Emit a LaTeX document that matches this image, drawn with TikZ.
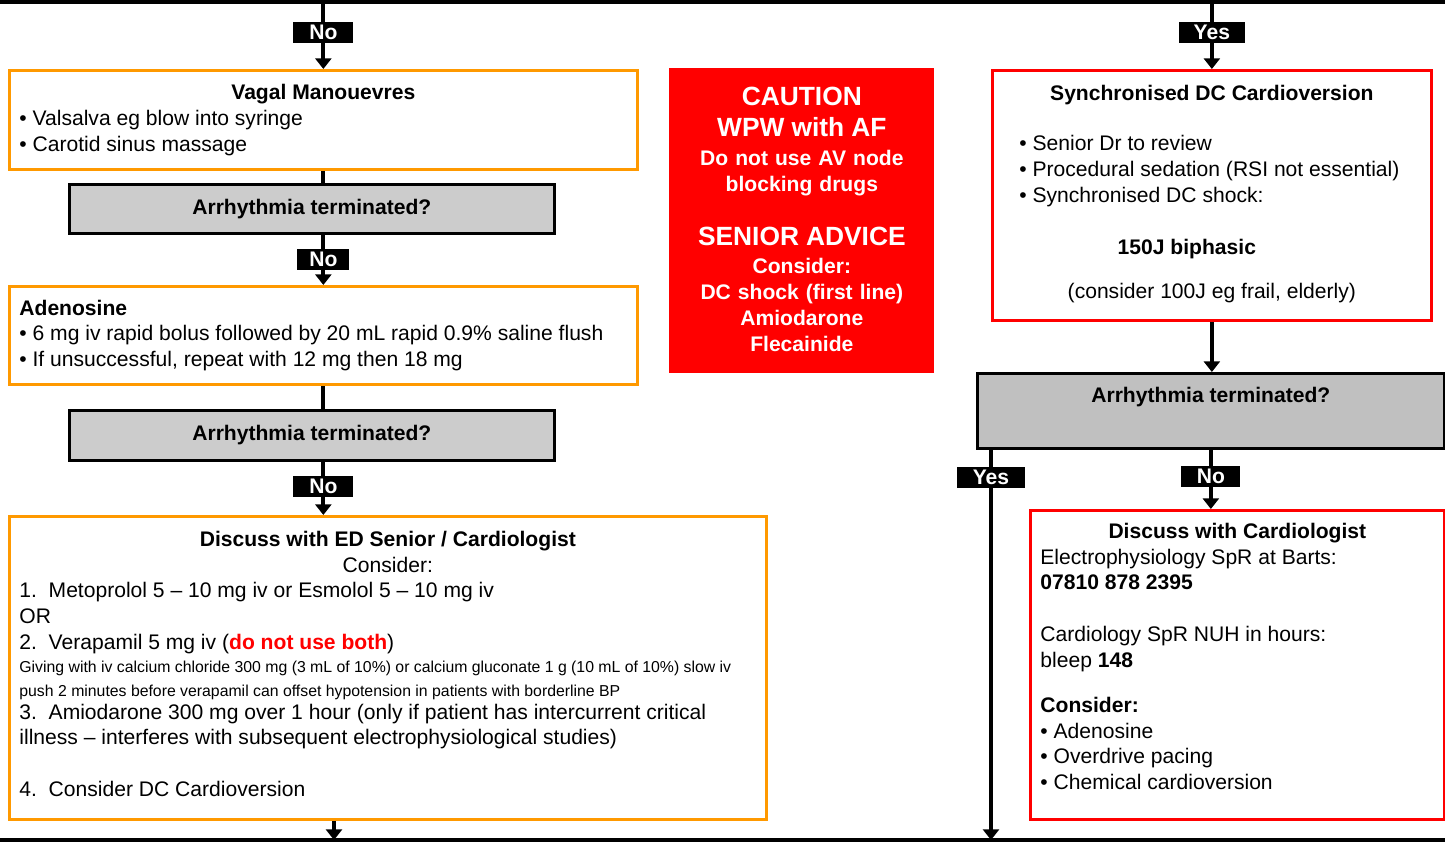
\documentclass[tikz,border=0pt]{standalone}
\usepackage{fontspec}
\setmainfont{Liberation Sans}
\usetikzlibrary{positioning}
\usetikzlibrary{calc}
\usetikzlibrary{arrows.meta}
\definecolor{boxorange}{HTML}{FF9900}
\definecolor{boxgrey}{HTML}{CCCCCC}
\definecolor{boxgreydark}{HTML}{C0C0C0}
\newcommand{\padbottom}[1]{\par\nointerlineskip\vspace{#1}\hbox{}}

\begin{document}
\begin{tikzpicture}[x=0.02cm, y=-0.02cm, font=\fontsize{12}{14.7}\selectfont,
	>={Triangle[width=9pt,length=6pt]},
	flow/.style={line width=2.2pt},
	plainspace/.style={execute at begin node={\spaceskip=0pt\xspaceskip=0pt}},
	obox/.style={rectangle,draw=boxorange,line width=1.6pt,anchor=north west,inner xsep=0.2cm,inner ysep=0.1cm,align=left,plainspace},
	rbox/.style={obox,draw=red},
	qbox/.style={rectangle,draw=black,fill=boxgrey,line width=1.6pt,anchor=north west,font=\fontsize{12}{14.7}\selectfont\bfseries},
	answer/.style={fill=black,text=white,inner sep=0pt,minimum width=1.2cm,minimum height=0.42cm,font=\fontsize{12}{14.7}\selectfont\bfseries}]
		\useasboundingbox (0,0) rectangle (1445,842);
		% left column
		\node[obox, text width=12.16cm, minimum height=1.98cm] (vagal) at (8,69){%
			{\centering\textbf{Vagal Manouevres}\par}
			\textbullet\ Valsalva eg blow into syringe\\
			\textbullet\ Carotid sinus massage};
		\node[qbox, minimum width=9.7cm, minimum height=0.98cm] (term1) at (68,183){Arrhythmia terminated?};
		\node[obox, text width=12.16cm, minimum height=1.96cm] (aden) at (8,285){%
			\textbf{Adenosine}\\
			\textbullet\ 6 mg iv rapid bolus followed by 20 mL rapid 0.9\% saline flush\\
			\textbullet\ If unsuccessful, repeat with 12 mg then 18 mg};
		\node[qbox, minimum width=9.7cm, minimum height=1cm] (term2) at (68,409){Arrhythmia terminated?};
		\node[obox, text width=14.74cm, minimum height=6.06cm] (discuss) at (8,515){%
			{\centering\textbf{Discuss with ED Senior / Cardiologist}\\Consider:\par}
			1.\ \ Metoprolol 5 – 10 mg iv or Esmolol 5 – 10 mg iv\\
			OR\\
			2.\ \ Verapamil 5 mg iv ({\color{red}\textbf{do not use both}})\par
			{\fontsize{9}{13.3}\selectfont Giving with iv calcium chloride 300 mg (3 mL of 10\%) or calcium gluconate 1 g (10 mL of 10\%) slow iv\\
			push 2 minutes before verapamil can offset hypotension in patients with borderline BP\par}\vspace{-1.7pt}
			3.\ \ Amiodarone 300 mg over 1 hour (only if patient has intercurrent critical\\
			illness – interferes with subsequent electrophysiological studies)\\[14.7pt]
			4.\ \ Consider DC Cardioversion\padbottom{4.5pt}};
		% warning panel
		\node[rectangle, fill=red, text=white, anchor=north west, inner xsep=0.1cm, text width=5.1cm, minimum height=6.1cm, align=center, font=\fontsize{12}{14.7}\selectfont\bfseries] (caution) at (669,68){%
			{\fontsize{15}{18}\selectfont CAUTION\\WPW with AF\par}\vspace{1.7pt}
			Do not use AV node\\blocking drugs\par\vspace{12.6pt}
			{\fontsize{15}{18}\selectfont SENIOR ADVICE\par}\vspace{1.7pt}
			Consider:\\DC shock (first line)\\Amiodarone\\Flecainide\padbottom{2pt}};
		% right column
		\node[rbox, text width=8.38cm, minimum height=5cm] (sync) at (991,69){%
			{\centering\textbf{Synchronised DC Cardioversion}\par}\vspace{14.2pt}
			\hspace*{0.34cm}\textbullet\ Senior Dr to review\\
			\hspace*{0.34cm}\textbullet\ Procedural sedation (RSI not essential)\\
			\hspace*{0.34cm}\textbullet\ Synchronised DC shock:\par\vspace{14.7pt}
			{\centering\hspace*{-1cm}\textbf{150J biphasic}\par}\vspace{10.8pt}
			{\centering (consider 100J eg frail, elderly)\par}\padbottom{1.5pt}};
		\node[qbox, fill=boxgreydark, minimum width=9.34cm, inner ysep=0.1cm, text height=0.48cm, text depth=0.82cm] (term3) at (976,372){Arrhythmia terminated?};
		\node[rbox, text width=7.88cm, minimum height=6.18cm] (cardio) at (1029,509){%
			{\centering\textbf{Discuss with Cardiologist}\par}
			Electrophysiology SpR at Barts:\\
			\textbf{07810 878 2395}\\[14.7pt]
			Cardiology SpR NUH in hours:\\
			bleep \textbf{148}\par\vspace{10.8pt}
			\textbf{Consider:}\\
			\textbullet\ Adenosine\\
			\textbullet\ Overdrive pacing\\
			\textbullet\ Chemical cardioversion\padbottom{9.6pt}};
		% rails and exits
		\coordinate (topleft) at (0,2);
		\coordinate (topright) at (1445,2);
		\coordinate (botleft) at (0,840);
		\coordinate (botright) at (1445,840);
		\coordinate (exitl) at (334,840);
		\coordinate (exitr) at (991,840);
		\draw[flow] (topleft) -- (topright);
		\draw[flow] (botleft) -- (botright);
		\draw[flow,->] (vagal.north |- topleft) -- node[answer, pos=.45]{No} (vagal.north);
		\draw[flow] (vagal.south) -- (vagal.south |- term1.north);
		\draw[flow,->] (vagal.south |- term1.south) -- node[answer, minimum width=1.04cm, pos=.49]{No} (aden.north);
		\draw[flow] (aden.south) -- (aden.south |- term2.north);
		\draw[flow,->] (aden.south |- term2.south) -- node[answer, pos=.46]{No} (aden.south |- discuss.north);
		\draw[flow,->] (exitl |- discuss.south) -- (exitl);
		\draw[flow,->] (sync.north |- topright) -- node[answer, minimum width=1.32cm, pos=.45]{Yes} (sync.north);
		\draw[flow,->] (sync.south) -- (sync.south |- term3.north);
		\draw[flow,->] (exitr |- term3.south) -- node[answer, minimum width=1.36cm, pos=.07]{Yes} (exitr);
		\draw[flow,->] (term3.south) -- node[answer, minimum width=1.18cm, pos=.45]{No} (term3.south |- cardio.north);
	\end{tikzpicture}
\end{document}
